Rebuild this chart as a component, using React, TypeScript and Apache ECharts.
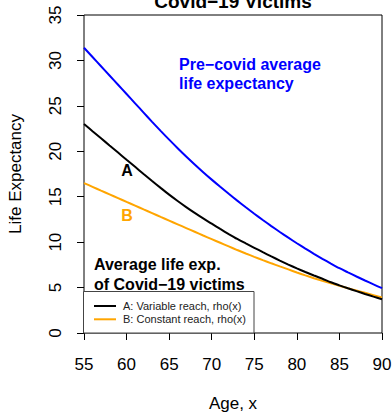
import React, { useEffect, useRef } from "react";
import * as echarts from "echarts";

const ages = [55, 56, 57, 58, 59, 60, 61, 62, 63, 64, 65, 66, 67, 68, 69, 70, 71, 72, 73, 74, 75, 76, 77, 78, 79, 80, 81, 82, 83, 84, 85, 86, 87, 88, 89, 90];
const preCovid = [31.4, 30.38, 29.36, 28.34, 27.32, 26.3, 25.28, 24.26, 23.24, 22.25, 21.28, 20.34, 19.43, 18.55, 17.7, 16.88, 16.09, 15.32, 14.57, 13.84, 13.13, 12.44, 11.77, 11.12, 10.49, 9.88, 9.29, 8.72, 8.17, 7.64, 7.13, 6.67, 6.22, 5.78, 5.35, 4.93];
const variableReach = [23.0, 22.21, 21.43, 20.64, 19.86, 19.07, 18.29, 17.5, 16.73, 15.97, 15.23, 14.53, 13.86, 13.22, 12.61, 12.03, 11.45, 10.89, 10.35, 9.86, 9.38, 8.9, 8.43, 7.97, 7.53, 7.11, 6.71, 6.33, 5.97, 5.58, 5.24, 4.92, 4.61, 4.3, 4.0, 3.71];
const constantReach = [16.5, 16.09, 15.67, 15.26, 14.85, 14.43, 14.02, 13.6, 13.2, 12.78, 12.37, 11.96, 11.55, 11.14, 10.73, 10.33, 9.93, 9.53, 9.13, 8.75, 8.38, 8.02, 7.67, 7.33, 7.0, 6.66, 6.34, 6.03, 5.74, 5.46, 5.2, 4.93, 4.67, 4.42, 4.17, 3.92];

const seriesNames = ["Pre-covid", "A: Variable reach, rho(x)", "B: Constant reach, rho(x)"];
const chartTitle = "Covid\u221219 Victims";
const xAxisName = "Age, x";
const yAxisName = "Life Expectancy";
const preCovidLabel = "Pre\u2212covid average\nlife expectancy";
const victimsLabel = "Average life exp.\nof Covid\u221219 victims";

const FONT = "'Liberation Sans', Arial, Helvetica, sans-serif";

export default function App() {
  const ref = useRef<HTMLDivElement>(null);
  useEffect(() => {
    if (!ref.current) return;
    const chart = echarts.init(ref.current, null, { renderer: "svg" });
    const toPairs = (vals: number[]) => ages.map((a, i) => [a, vals[i]]);
    const txt = (
      text: string,
      x: number,
      y: number,
      size: number,
      weight: string,
      fill: string,
      align: string,
      valign: string,
      lineHeight?: number
    ) => ({
      type: "text",
      x,
      y,
      z: 100,
      style: {
        text,
        fill,
        font: `${weight} ${size}px ${FONT}`,
        fontSize: size,
        fontWeight: weight,
        fontFamily: FONT,
        align,
        verticalAlign: valign,
        textAlign: align,
        textVerticalAlign: valign,
        lineHeight: lineHeight || size * 1.2,
      },
    });
    chart.setOption({
      animation: false,
      backgroundColor: "#ffffff",
      grid: {
        left: 84,
        top: 15,
        width: 298,
        height: 318,
        containLabel: false,
        outerBoundsMode: "none",
        show: true,
        borderColor: "#000",
        borderWidth: 1,
        backgroundColor: "transparent",
      },
      xAxis: {
        type: "value",
        min: 55,
        max: 90,
        interval: 5,
        name: xAxisName,
        nameLocation: "middle",
        nameGap: 62,
        nameTextStyle: { fontSize: 17, color: "#000", fontFamily: FONT },
        axisLine: { show: false },
        axisTick: { show: true, length: 7, lineStyle: { color: "#000", width: 1 } },
        axisLabel: { fontSize: 17, color: "#000", fontFamily: FONT, margin: 23 },
        splitLine: { show: false },
      },
      yAxis: {
        type: "value",
        min: 0,
        max: 35,
        interval: 5,
        name: yAxisName,
        nameLocation: "middle",
        nameGap: 60,
        nameTextStyle: { fontSize: 17, color: "#000", fontFamily: FONT },
        axisLine: { show: false },
        axisTick: { show: true, length: 7, lineStyle: { color: "#000", width: 1 } },
        axisLabel: { fontSize: 17, color: "#000", fontFamily: FONT, margin: 20, rotate: 90 },
        splitLine: { show: false },
      },
      series: [
        {
          name: seriesNames[0],
          type: "line",
          data: toPairs(preCovid),
          showSymbol: false,
          smooth: 0.3,
          lineStyle: { color: "#0000FF", width: 2 },
          itemStyle: { color: "#0000FF" },
          z: 3,
        },
        {
          name: seriesNames[2],
          type: "line",
          data: toPairs(constantReach),
          showSymbol: false,
          smooth: 0.3,
          lineStyle: { color: "#FFA500", width: 2 },
          itemStyle: { color: "#FFA500" },
          z: 3,
        },
        {
          name: seriesNames[1],
          type: "line",
          data: toPairs(variableReach),
          showSymbol: false,
          smooth: 0.3,
          lineStyle: { color: "#000000", width: 2 },
          itemStyle: { color: "#000000" },
          z: 4,
        },
      ],
      graphic: [
        txt(chartTitle, 233, 1, 19, "bold", "#000", "center", "middle"),
        txt(preCovidLabel, 179, 54.5, 16, "bold", "#0000FF", "left", "top", 19.5),
        txt("A", 127, 170, 16, "bold", "#000", "center", "middle"),
        txt("B", 127, 215, 16, "bold", "#FFA500", "center", "middle"),
        txt(victimsLabel, 94, 255, 16, "bold", "#000", "left", "top", 19.5),
        {
          type: "rect",
          z: 90,
          shape: { x: 83.5, y: 291.5, width: 170.5, height: 41.5 },
          style: { fill: "#fff", stroke: "#444", lineWidth: 1 },
        },
        {
          type: "line",
          z: 95,
          shape: { x1: 94, y1: 306, x2: 116, y2: 306 },
          style: { stroke: "#000", lineWidth: 2 },
        },
        {
          type: "line",
          z: 95,
          shape: { x1: 94, y1: 319.3, x2: 116, y2: 319.3 },
          style: { stroke: "#FFA500", lineWidth: 2 },
        },
        txt(seriesNames[1], 123, 306, 11, "normal", "#222", "left", "middle"),
        txt(seriesNames[2], 123, 319.3, 11, "normal", "#222", "left", "middle"),
      ],
    });
    return () => chart.dispose();
  }, []);
  return (
    <div
      ref={ref}
      style={{ position: "fixed", left: 0, top: 0, width: 392, height: 412 }}
    />
  );
}
